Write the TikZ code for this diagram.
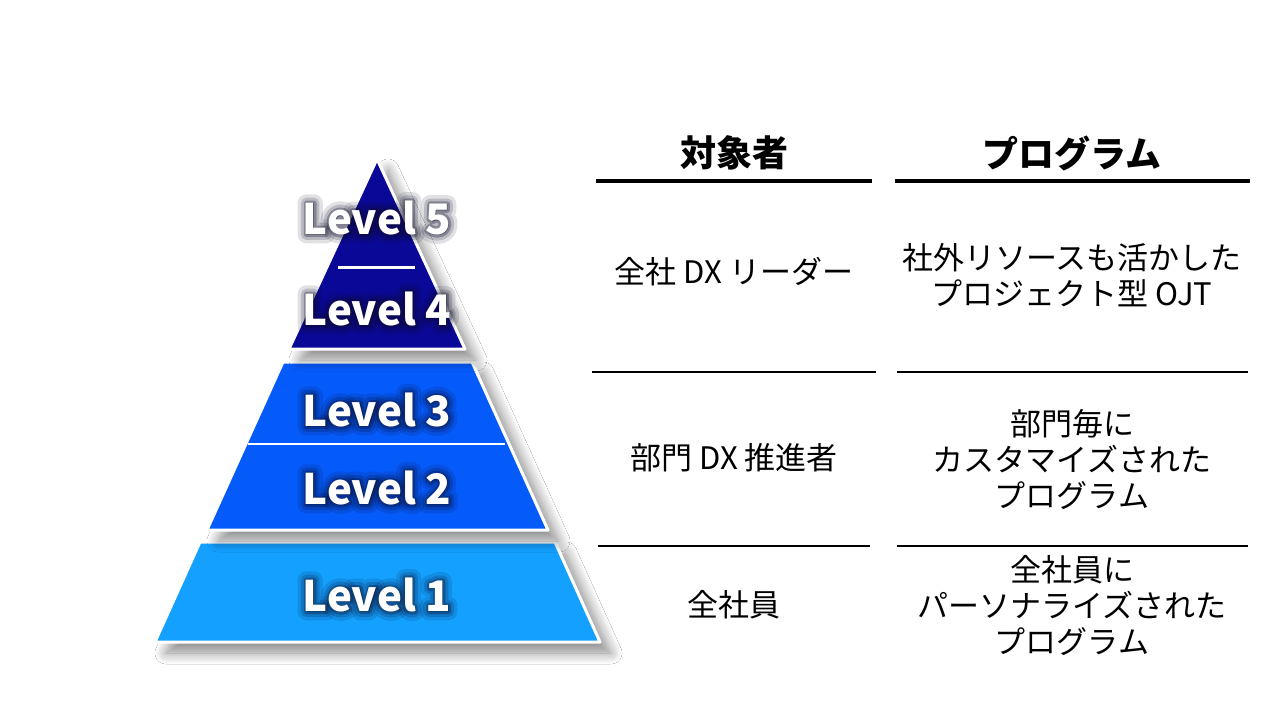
\documentclass[tikz,border=0pt]{standalone}
\usepackage{fontspec}
\setmainfont{Noto Sans CJK JP}
\newfontfamily\glowwide[BoldFeatures={FakeBold=42}]{Noto Sans CJK JP}
\newfontfamily\glowmid[BoldFeatures={FakeBold=26}]{Noto Sans CJK JP}
\newfontfamily\glownarrow[BoldFeatures={FakeBold=12}]{Noto Sans CJK JP}
\usetikzlibrary{shadows.blur}

\definecolor{tierfive}{RGB}{10,8,150}
\definecolor{tierthree}{RGB}{5,90,250}
\definecolor{tierone}{RGB}{20,160,255}
\definecolor{glowcol}{RGB}{10,10,40}

\tikzset{
  tier/.style={draw=white, line width=3pt, line join=round,
    blur shadow={shadow xshift=11pt, shadow yshift=-11pt, shadow blur radius=11pt,
      shadow blur steps=14, shadow opacity=45}},
  level/.style={text=white, font=\fontsize{42}{48}\selectfont\bfseries},
  glow/.style 2 args={text=glowcol, opacity=#2, font=\fontsize{42}{48}\selectfont#1\bfseries},
  head/.style={font=\fontsize{36}{40}\selectfont\bfseries},
  cell/.style={font=\fontsize{31}{36}\selectfont, align=center},
  rule/.style={line width=2.5pt},
  headrule/.style={line width=4.5pt},
}

% white label with dark glow round it
\newcommand\levellabel[3]{%
  \node[glow={\glowwide}{0.12}] at (#2) {\special{pdf:code 1 j}#3};
  \node[glow={\glowmid}{0.18}] at (#2) {\special{pdf:code 1 j}#3};
  \node[glow={\glownarrow}{0.3}] at (#2) {\special{pdf:code 1 j}#3};
  \node[level] (#1) at (#2) {#3};
}

\begin{document}
\begin{tikzpicture}[x=1pt, y=-1pt]
  \useasboundingbox[fill=white] (0,0) rectangle (1280,720);

  % pyramid
  \fill[tier, fill=tierone]   (200,542) -- (555,542) -- (600,642) -- (155,642) -- cycle;
  \fill[tier, fill=tierthree] (283,362) -- (472,362) -- (548,530) -- (207,530) -- cycle;
  \fill[tier, fill=tierfive]  (377,159) -- (465,349) -- (289,349) -- cycle;

  % dividers inside the tiers
  \draw[white, line width=3pt] (338,267) -- (415,267);
  \draw[white, line width=2.5pt] (248,444) -- (505,444);

  % level labels
  \levellabel{lv5}{377,218}{Level 5}
  \levellabel{lv4}{377,309}{Level 4}
  \levellabel{lv3}{377,410}{Level 3}
  \levellabel{lv2}{377,488}{Level 2}
  \levellabel{lv1}{377,595}{Level 1}

  % table header
  \node[head] (who)  at (734,153)  {対象者};
  \node[head] (prog) at (1072,153) {プログラム};
  \draw[headrule] (596,181) -- (872,181);
  \draw[headrule] (895,181) -- (1250,181);

  % rows
  \node[cell] (who1)  at (734,272)  {全社 DX リーダー};
  \node[cell] (prog1) at (1072,275) {社外リソースも活かした\\プロジェクト型 OJT};
  \draw[rule] (592,372) -- (876,372);
  \draw[rule] (897,372) -- (1248,372);

  \node[cell] (who2)  at (734,458)  {部門 DX 推進者};
  \node[cell] (prog2) at (1072,460) {部門毎に\\カスタマイズされた\\プログラム};
  \draw[rule] (598,546) -- (870,546);
  \draw[rule] (897,546) -- (1248,546);

  \node[cell] (who3)  at (734,605)  {全社員};
  \node[cell] (prog3) at (1072,606) {全社員に\\パーソナライズされた\\プログラム};
\end{tikzpicture}
\end{document}
